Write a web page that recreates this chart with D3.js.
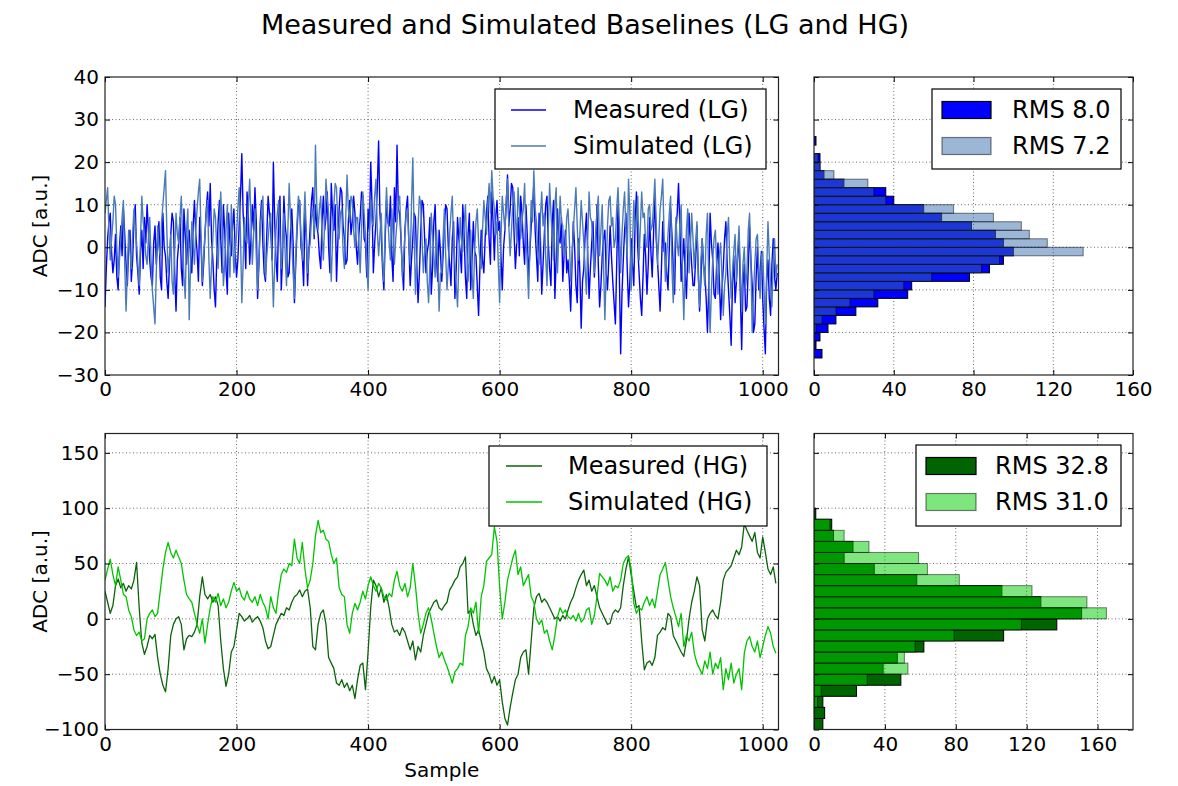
<!DOCTYPE html>
<html><head><meta charset="utf-8">
<script src="https://cdn.jsdelivr.net/npm/d3@7"></script>
<style>
body{margin:0;background:#fff;}
svg text{font-family:"DejaVu Sans","Liberation Sans",sans-serif;fill:#000;}
</style></head><body>
<svg id="c" width="1178" height="786"></svg>
<script>
// ---------------- DATA ----------------
const nSamples = 1024;
// LG: every 2nd sample
const measuredLG = [
-14,-5,2,6,8,-1,-6,-3,3,-7,-10,0,5,-2,9,3,-4,-9,1,4,-8,-3,6,10,-2,-6,-11,-1,4,-5,7,1,
10,4,-3,-7,-9,1,5,-4,2,6,-7,-10,8,0,-2,-8,-12,-4,3,8,6,-6,-15,-3,1,7,-5,-9,9,3,-4,2,
4,-2,-6,5,11,3,-1,-8,7,1,-9,-4,3,9,13,5,15,2,-3,-10,-14,-2,6,11,2,-6,10,4,-5,-11,8,1,
-2,5,9,-1,-7,-3,5,12,22,8,3,-5,13,7,-4,2,10,4,14,6,-12,-4,6,11,1,-6,-8,3,12,8,4,-3,
20,6,-3,-8,7,12,-10,-2,12,5,2,-7,-6,3,9,1,-13,-4,4,10,11,0,-2,-9,8,3,-9,-1,5,11,14,2,
10,5,3,-2,-5,6,12,4,7,13,0,-6,15,8,4,10,-8,1,9,14,13,5,2,-4,-3,6,11,3,6,12,8,0,
-4,3,7,13,12,2,1,-7,9,4,20,10,-6,1,6,14,25,8,3,-5,-10,2,11,6,5,12,-2,-8,14,6,24,9,
8,2,-5,-10,4,9,12,1,-9,-3,2,8,7,-4,-13,-6,3,11,10,2,-6,-1,1,7,-11,-5,6,10,-3,-8,4,-1,
-8,-2,5,10,9,0,-4,-9,2,6,-12,-5,7,2,-1,-6,10,3,-7,-12,3,8,-10,-3,6,-1,-2,-9,-16,-5,4,-3,
-6,2,8,12,2,-4,13,6,-3,7,11,4,6,-2,-10,0,4,10,17,5,9,15,14,3,-5,1,7,-2,12,8,1,-4,
10,3,-7,-1,5,9,15,4,-2,-8,8,2,-11,-4,3,10,12,1,-5,-9,6,11,-12,-3,9,2,1,7,-8,-2,4,-6,
-3,-8,-15,-4,6,0,-9,-13,2,-6,-19,-8,-5,3,8,-2,-12,-5,1,6,-7,-1,10,-4,-14,-9,-2,2,4,-6,-10,-3,
5,-2,-8,-13,-18,-4,10,-6,-25,-11,-3,4,8,-5,-14,-8,2,-4,-9,6,13,0,-6,-12,-16,-7,3,-2,-11,-4,7,-1,
-7,3,12,2,-3,-9,-15,-5,6,-1,1,-6,-10,0,9,3,-5,-11,4,8,15,5,-8,-3,2,-6,-12,-2,8,1,-4,-9,
-9,-3,5,-6,-15,-8,2,-4,-6,-12,-20,-9,8,1,-3,-11,-12,-4,1,-7,-17,-10,-5,2,6,-4,-10,-16,-23,-9,-2,-13,
-8,-2,3,-11,-24,-9,-4,-15,-14,-5,5,-3,-9,-20,-18,-7,0,-10,-6,-1,-12,-19,-25,-8,-3,-12,-16,-4,2,-7,-10,-6];
const simulatedLG = [
8,11,14,4,-3,2,6,12,10,0,-7,-3,2,7,11,-4,-15,-6,4,-1,-5,3,9,5,1,-4,-9,2,12,6,3,-2,
-4,2,7,-3,-10,-14,-18,-6,5,0,-2,6,10,14,18,4,-6,-2,3,-8,-11,-1,8,3,1,7,12,2,-7,-12,4,9,
-17,-5,6,1,-4,4,9,13,16,3,-8,-2,3,8,11,-3,-12,-4,2,9,7,-1,-5,5,13,4,-9,-4,4,10,-2,-7,
10,2,-6,-1,3,9,14,3,-13,-4,7,2,1,10,16,6,-4,3,9,-2,-10,-3,5,8,12,1,-7,-2,2,6,8,-3,
-14,-4,4,8,11,2,-5,1,8,-2,-9,4,15,7,2,-6,-12,-2,6,12,10,3,-3,5,13,4,-6,-1,1,7,9,3,
24,10,4,9,12,3,-3,6,16,11,8,1,-8,2,10,15,14,5,2,8,9,-1,-5,7,17,9,6,12,11,4,0,7,
7,1,-6,4,13,8,3,-4,-10,2,11,6,5,12,16,4,-2,3,8,-3,-8,5,14,7,1,-3,9,3,-4,2,6,10,
12,3,-7,-2,3,8,9,1,-4,10,21,4,-11,-3,5,12,10,2,-6,-1,2,-8,-13,-4,8,3,-2,-7,4,-3,-15,-6,
-6,2,9,-2,-10,-4,3,8,12,1,-4,-9,-14,-3,7,2,-1,5,10,0,-8,-2,4,-6,-12,-1,6,9,1,-3,-5,4,
11,7,3,10,15,8,18,12,9,3,6,-4,-13,2,12,8,4,11,16,5,-2,4,10,13,7,1,14,9,2,6,9,15,
3,-4,-12,0,11,6,18,9,6,-1,-4,7,13,5,8,-2,-9,4,15,8,2,-3,10,14,-6,3,12,6,5,-2,0,7,
9,2,-8,-2,4,9,14,5,-3,3,11,6,1,-5,-11,2,13,7,6,-1,-6,3,8,12,-2,4,10,-4,-17,-6,5,11,
12,5,7,0,2,9,14,6,-6,3,9,13,4,-2,16,8,-10,0,11,4,6,12,-3,5,13,7,8,1,0,9,10,4,
5,10,16,6,-4,2,9,12,16,3,-8,-2,3,8,12,-5,-13,-2,7,1,-2,5,10,-6,-17,-5,4,9,-6,0,8,2,
-5,1,6,-6,-14,-3,2,-5,-9,3,8,-8,-20,-10,-3,2,4,-4,-11,-2,1,-7,-16,-9,-6,3,7,-4,-12,-6,-1,3,
-8,-1,5,-6,-15,-4,0,-9,-6,4,8,-3,-20,-11,-4,2,3,-5,-12,-2,-1,-10,-18,-6,6,-2,-9,-14,-3,2,-7,-4];
// HG: every 4th sample
const measuredHG = [
25,15,5,12,30,36,28,32,25,30,27,35,51,10,-22,-32,
-25,-15,-18,-14,-35,-50,-60,-66,-45,-15,-5,0,2,-5,-28,-18,
-15,-16,-12,-5,20,38,22,18,22,15,20,12,-20,-45,-61,-50,
-30,-25,-10,5,2,-2,0,3,-3,0,2,-2,-8,-20,-27,-25,
-15,-5,0,5,3,10,8,15,20,22,26,20,25,27,10,-25,
-28,-5,5,8,-5,-35,-40,-45,-58,-60,-55,-62,-58,-65,-60,-72,
-55,-42,-40,-64,-30,10,35,30,20,28,15,22,10,-5,-12,-10,
-15,-8,-12,-20,-28,-20,-37,-25,-30,-15,-5,5,10,15,17,10,
8,12,15,26,30,35,38,47,50,56,5,8,-5,-15,-10,-20,
-30,-45,-50,-58,-52,-60,-55,-75,-90,-96,-80,-67,-55,-50,-35,-30,
-28,-50,-20,10,20,23,15,18,15,10,5,0,2,-2,3,0,
8,15,20,28,35,40,44,30,35,25,30,20,10,5,0,-5,
-4,5,8,6,10,30,45,56,40,25,10,12,-20,-46,-40,-38,
-42,-35,-15,-12,-8,-10,5,2,-15,-20,-25,-30,-34,-20,0,15,
25,38,30,-10,-20,0,5,8,3,0,15,35,42,45,48,55,
62,58,65,86,80,75,70,78,60,55,74,60,45,40,47,32];
const simulatedHG = [
35,45,54,40,30,47,35,22,20,8,2,-10,-15,-12,-20,-18,
0,5,8,2,5,25,45,60,69,60,55,62,56,50,35,22,
18,15,5,-5,-13,0,-22,-5,10,20,15,23,12,18,10,15,
25,33,25,28,20,17,25,18,15,20,12,22,15,10,0,20,
10,5,25,40,45,42,50,48,72,55,50,69,45,28,35,50,
75,89,78,80,72,70,58,50,55,28,22,20,-5,-13,5,14,
8,15,25,18,30,38,30,25,32,28,20,17,23,20,35,43,
30,25,32,20,28,50,30,5,-13,-5,5,10,0,-13,-25,-35,
-30,-37,-43,-50,-58,-48,-45,-40,-42,-15,-7,10,5,15,-13,20,
30,52,55,58,83,70,29,0,15,35,45,55,62,40,47,30,
35,40,20,15,0,-5,-1,-13,-10,-20,-28,-15,2,10,5,8,
2,0,3,-2,5,-3,0,8,10,-5,3,20,41,38,35,30,
38,25,30,28,35,50,55,57,45,14,5,10,8,15,20,12,
18,10,25,40,45,51,35,20,10,2,-7,5,-25,-15,-20,-12,
-31,-40,-45,-50,-38,-45,-30,-50,-40,-45,-35,-64,-45,-55,-40,-58,
-50,-45,-64,-31,-20,-16,-25,-30,-20,-35,-25,-15,-7,-13,-25,-31];

// histogram bins (lower edges) and counts
const lgBinLower = d3.range(-26, 26, 2);   // 26 bins of width 2
const lgBinWidth = 2;
const histMeasuredLG = [4,1,3,7,11,21,32,47,49,78,88,95,100,95,91,79,64,55,40,36,15,5,3,3,0,1];
const histSimulatedLG = [0,0,0,1,4,11,18,30,45,59,84,93,135,117,108,104,90,70,36,30,27,10,3,2,0,0];
const hgBinLower = d3.range(-100, 100, 10); // 20 bins of width 10
const hgBinWidth = 10;
const histMeasuredHG = [5,6,5,24,49,39,47,62,107,137,151,128,106,58,34,17,22,11,10,1];
const histSimulatedHG = [0,0,2,4,30,53,51,57,79,117,165,154,123,82,64,59,31,17,9,0];

const sampleTicks = [0,200,400,600,800,1000];
const lgTicks = [-30,-20,-10,0,10,20,30,40];
const hgTicks = [-100,-50,0,50,100,150];
const histTicks = [0,40,80,120,160];
const rmsLabels = {mLG:"RMS 8.0", sLG:"RMS 7.2", mHG:"RMS 32.8", sHG:"RMS 31.0"};
const lineLabels = {mLG:"Measured (LG)", sLG:"Simulated (LG)", mHG:"Measured (HG)", sHG:"Simulated (HG)"};

// ---------------- STYLE / LAYOUT ----------------
const col = {mLG:"#0000ff", sLG:"#4a7bb7", mHG:"#0b640b", sHG:"#00c400",
             hmLG:"#0000ff", hsLG:"#3a6db0", hmHG:"#006400", hsHG:"#00cc00"};
const svg = d3.select("#c");
const fmt = d3.format("");
const P = {l:105, r:778.5, hl:814, hr:1133, t1:77, b1:375, t2:433.5, b2:729.5};
const tickFont = 20, legendFont = 24, labelFont = 20, titleFont = 27;

const xS = d3.scaleLinear().domain([0, nSamples]).range([P.l, P.r]);
const yLG = d3.scaleLinear().domain([-30, 40]).range([P.b1, P.t1]);
const yHG = d3.scaleLinear().domain([-100, 167.5]).range([P.b2, P.t2]);
const xH1 = d3.scaleLinear().domain([0, 160]).range([P.hl, P.hr]);
const xH2 = d3.scaleLinear().domain([0, 180]).range([P.hl, P.hr]);

let clipId = 0;
function panel(x, y, xt, yt, showY) {
  const [x0,x1] = x.range(), [y1,y0] = y.range();
  const g = svg.append("g");
  const id = "clip" + (clipId++);
  svg.append("clipPath").attr("id", id).append("rect")
    .attr("x", x0).attr("y", y0).attr("width", x1-x0).attr("height", y1-y0);
  const grid = g.append("g").attr("stroke","#444").attr("stroke-width",0.8)
    .attr("stroke-dasharray","1,2.5");
  xt.forEach(v => { if (x(v) > x0+1 && x(v) < x1-1) grid.append("line")
      .attr("x1",x(v)).attr("x2",x(v)).attr("y1",y0).attr("y2",y1); });
  yt.forEach(v => { if (y(v) > y0+1 && y(v) < y1-1) grid.append("line")
      .attr("y1",y(v)).attr("y2",y(v)).attr("x1",x0).attr("x2",x1); });
  const content = g.append("g").attr("clip-path", `url(#${id})`);
  const axes = svg.append("g");
  axes.append("g").attr("transform",`translate(0,${y1})`)
    .call(d3.axisBottom(x).tickValues(xt).tickFormat(fmt).tickSizeInner(-5).tickSizeOuter(0).tickPadding(7));
  axes.append("g").attr("transform",`translate(0,${y0})`)
    .call(d3.axisTop(x).tickValues(xt).tickFormat("").tickSizeInner(-5).tickSizeOuter(0));
  axes.append("g").attr("transform",`translate(${x0},0)`)
    .call(d3.axisLeft(y).tickValues(yt).tickFormat(showY ? fmt : "").tickSizeInner(-5).tickSizeOuter(0).tickPadding(6));
  axes.append("g").attr("transform",`translate(${x1},0)`)
    .call(d3.axisRight(y).tickValues(yt).tickFormat("").tickSizeInner(-5).tickSizeOuter(0));
  axes.selectAll(".domain").remove();
  axes.selectAll(".tick line").attr("stroke","#000").attr("stroke-width",1);
  axes.selectAll(".tick text").attr("font-size",tickFont).attr("font-family","DejaVu Sans").attr("fill","#000");
  axes.append("rect").attr("x",x0).attr("y",y0).attr("width",x1-x0).attr("height",y1-y0)
    .attr("fill","none").attr("stroke","#222").attr("stroke-width",1.2);
  return content;
}

function drawLine(g, data, y, color, w) {
  const step = nSamples / data.length;
  g.append("path").datum(data)
    .attr("d", d3.line().x((d,i)=>xS(i*step)).y(d=>y(d)))
    .attr("fill","none").attr("stroke",color).attr("stroke-width",w)
    .attr("stroke-linejoin","round");
}
function drawHist(g, lower, w, counts, x, y, fill, alpha) {
  g.selectAll(null).data(counts.map((c,i)=>({c, lo:lower[i]}))).enter().append("rect")
    .attr("x", x(0)).attr("width", d => x(d.c) - x(0))
    .attr("y", d => y(d.lo + w)).attr("height", d => y(d.lo) - y(d.lo + w))
    .attr("fill", fill).attr("fill-opacity", alpha)
    .attr("stroke","#000").attr("stroke-opacity", alpha).attr("stroke-width",1);
}

// ---------------- TOP ROW ----------------
const c1 = panel(xS, yLG, sampleTicks, lgTicks, true);
drawLine(c1, measuredLG, yLG, col.mLG, 1.4);
drawLine(c1, simulatedLG, yLG, col.sLG, 1.4);
const h1 = panel(xH1, yLG, histTicks, lgTicks, false);
drawHist(h1, lgBinLower, lgBinWidth, histMeasuredLG, xH1, yLG, col.hmLG, 1);
drawHist(h1, lgBinLower, lgBinWidth, histSimulatedLG, xH1, yLG, col.hsLG, 0.5);

// ---------------- BOTTOM ROW ----------------
const c2 = panel(xS, yHG, sampleTicks, hgTicks, true);
drawLine(c2, measuredHG, yHG, col.mHG, 1.3);
drawLine(c2, simulatedHG, yHG, col.sHG, 1.3);
const h2 = panel(xH2, yHG, histTicks, hgTicks, false);
drawHist(h2, hgBinLower, hgBinWidth, histMeasuredHG, xH2, yHG, col.hmHG, 1);
drawHist(h2, hgBinLower, hgBinWidth, histSimulatedHG, xH2, yHG, col.hsHG, 0.5);

// ---------------- LEGENDS ----------------
function legend(box, rows) {
  const g = svg.append("g");
  g.append("rect").attr("x",box[0]).attr("y",box[1]).attr("width",box[2]-box[0]).attr("height",box[3]-box[1])
    .attr("fill","#fff").attr("stroke","#000").attr("stroke-width",1.2);
  rows.forEach(r => {
    if (r.type === "line") {
      g.append("line").attr("x1",r.sx0).attr("x2",r.sx1).attr("y1",r.y).attr("y2",r.y)
        .attr("stroke",r.color).attr("stroke-width",1.3);
    } else {
      g.append("rect").attr("x",r.sx0).attr("y",r.y-8.5).attr("width",r.sx1-r.sx0).attr("height",17)
        .attr("fill",r.color).attr("fill-opacity",r.alpha)
        .attr("stroke","#000").attr("stroke-opacity",r.alpha).attr("stroke-width",1.2);
    }
    g.append("text").attr("x",r.tx).attr("y",r.y).attr("dy","0.35em")
      .attr("font-size",legendFont).text(r.label);
  });
}
legend([495,89,766,169], [
  {type:"line", sx0:511, sx1:546, y:110, color:col.mLG, tx:573, label:lineLabels.mLG},
  {type:"line", sx0:511, sx1:546, y:146, color:col.sLG, tx:573, label:lineLabels.sLG}]);
legend([932,89,1121,169], [
  {type:"patch", sx0:942, sx1:991, y:110, color:col.hmLG, alpha:1, tx:1012, label:rmsLabels.mLG},
  {type:"patch", sx0:942, sx1:991, y:146, color:col.hsLG, alpha:0.5, tx:1012, label:rmsLabels.sLG}]);
legend([489,446,767,526], [
  {type:"line", sx0:506, sx1:542, y:466, color:col.mHG, tx:568, label:lineLabels.mHG},
  {type:"line", sx0:506, sx1:542, y:502, color:col.sHG, tx:568, label:lineLabels.sHG}]);
legend([916,445,1121,526], [
  {type:"patch", sx0:926, sx1:976, y:466, color:col.hmHG, alpha:1, tx:995, label:rmsLabels.mHG},
  {type:"patch", sx0:926, sx1:976, y:502, color:col.hsHG, alpha:0.5, tx:995, label:rmsLabels.sHG}]);

// ---------------- TITLES ----------------
svg.append("text").attr("x",585).attr("y",25).attr("dy","0.35em").attr("text-anchor","middle")
  .attr("font-size",titleFont).text("Measured and Simulated Baselines (LG and HG)");
svg.append("text").attr("x",(P.l+P.r)/2).attr("y",770).attr("dy","0.35em").attr("text-anchor","middle")
  .attr("font-size",labelFont).text("Sample");
[(P.t1+P.b1)/2, (P.t2+P.b2)/2].forEach(cy => {
  svg.append("text").attr("transform",`translate(40,${cy}) rotate(-90)`).attr("dy","0.35em")
    .attr("text-anchor","middle").attr("font-size",labelFont).text("ADC [a.u.]");
});
</script>
</body></html>
